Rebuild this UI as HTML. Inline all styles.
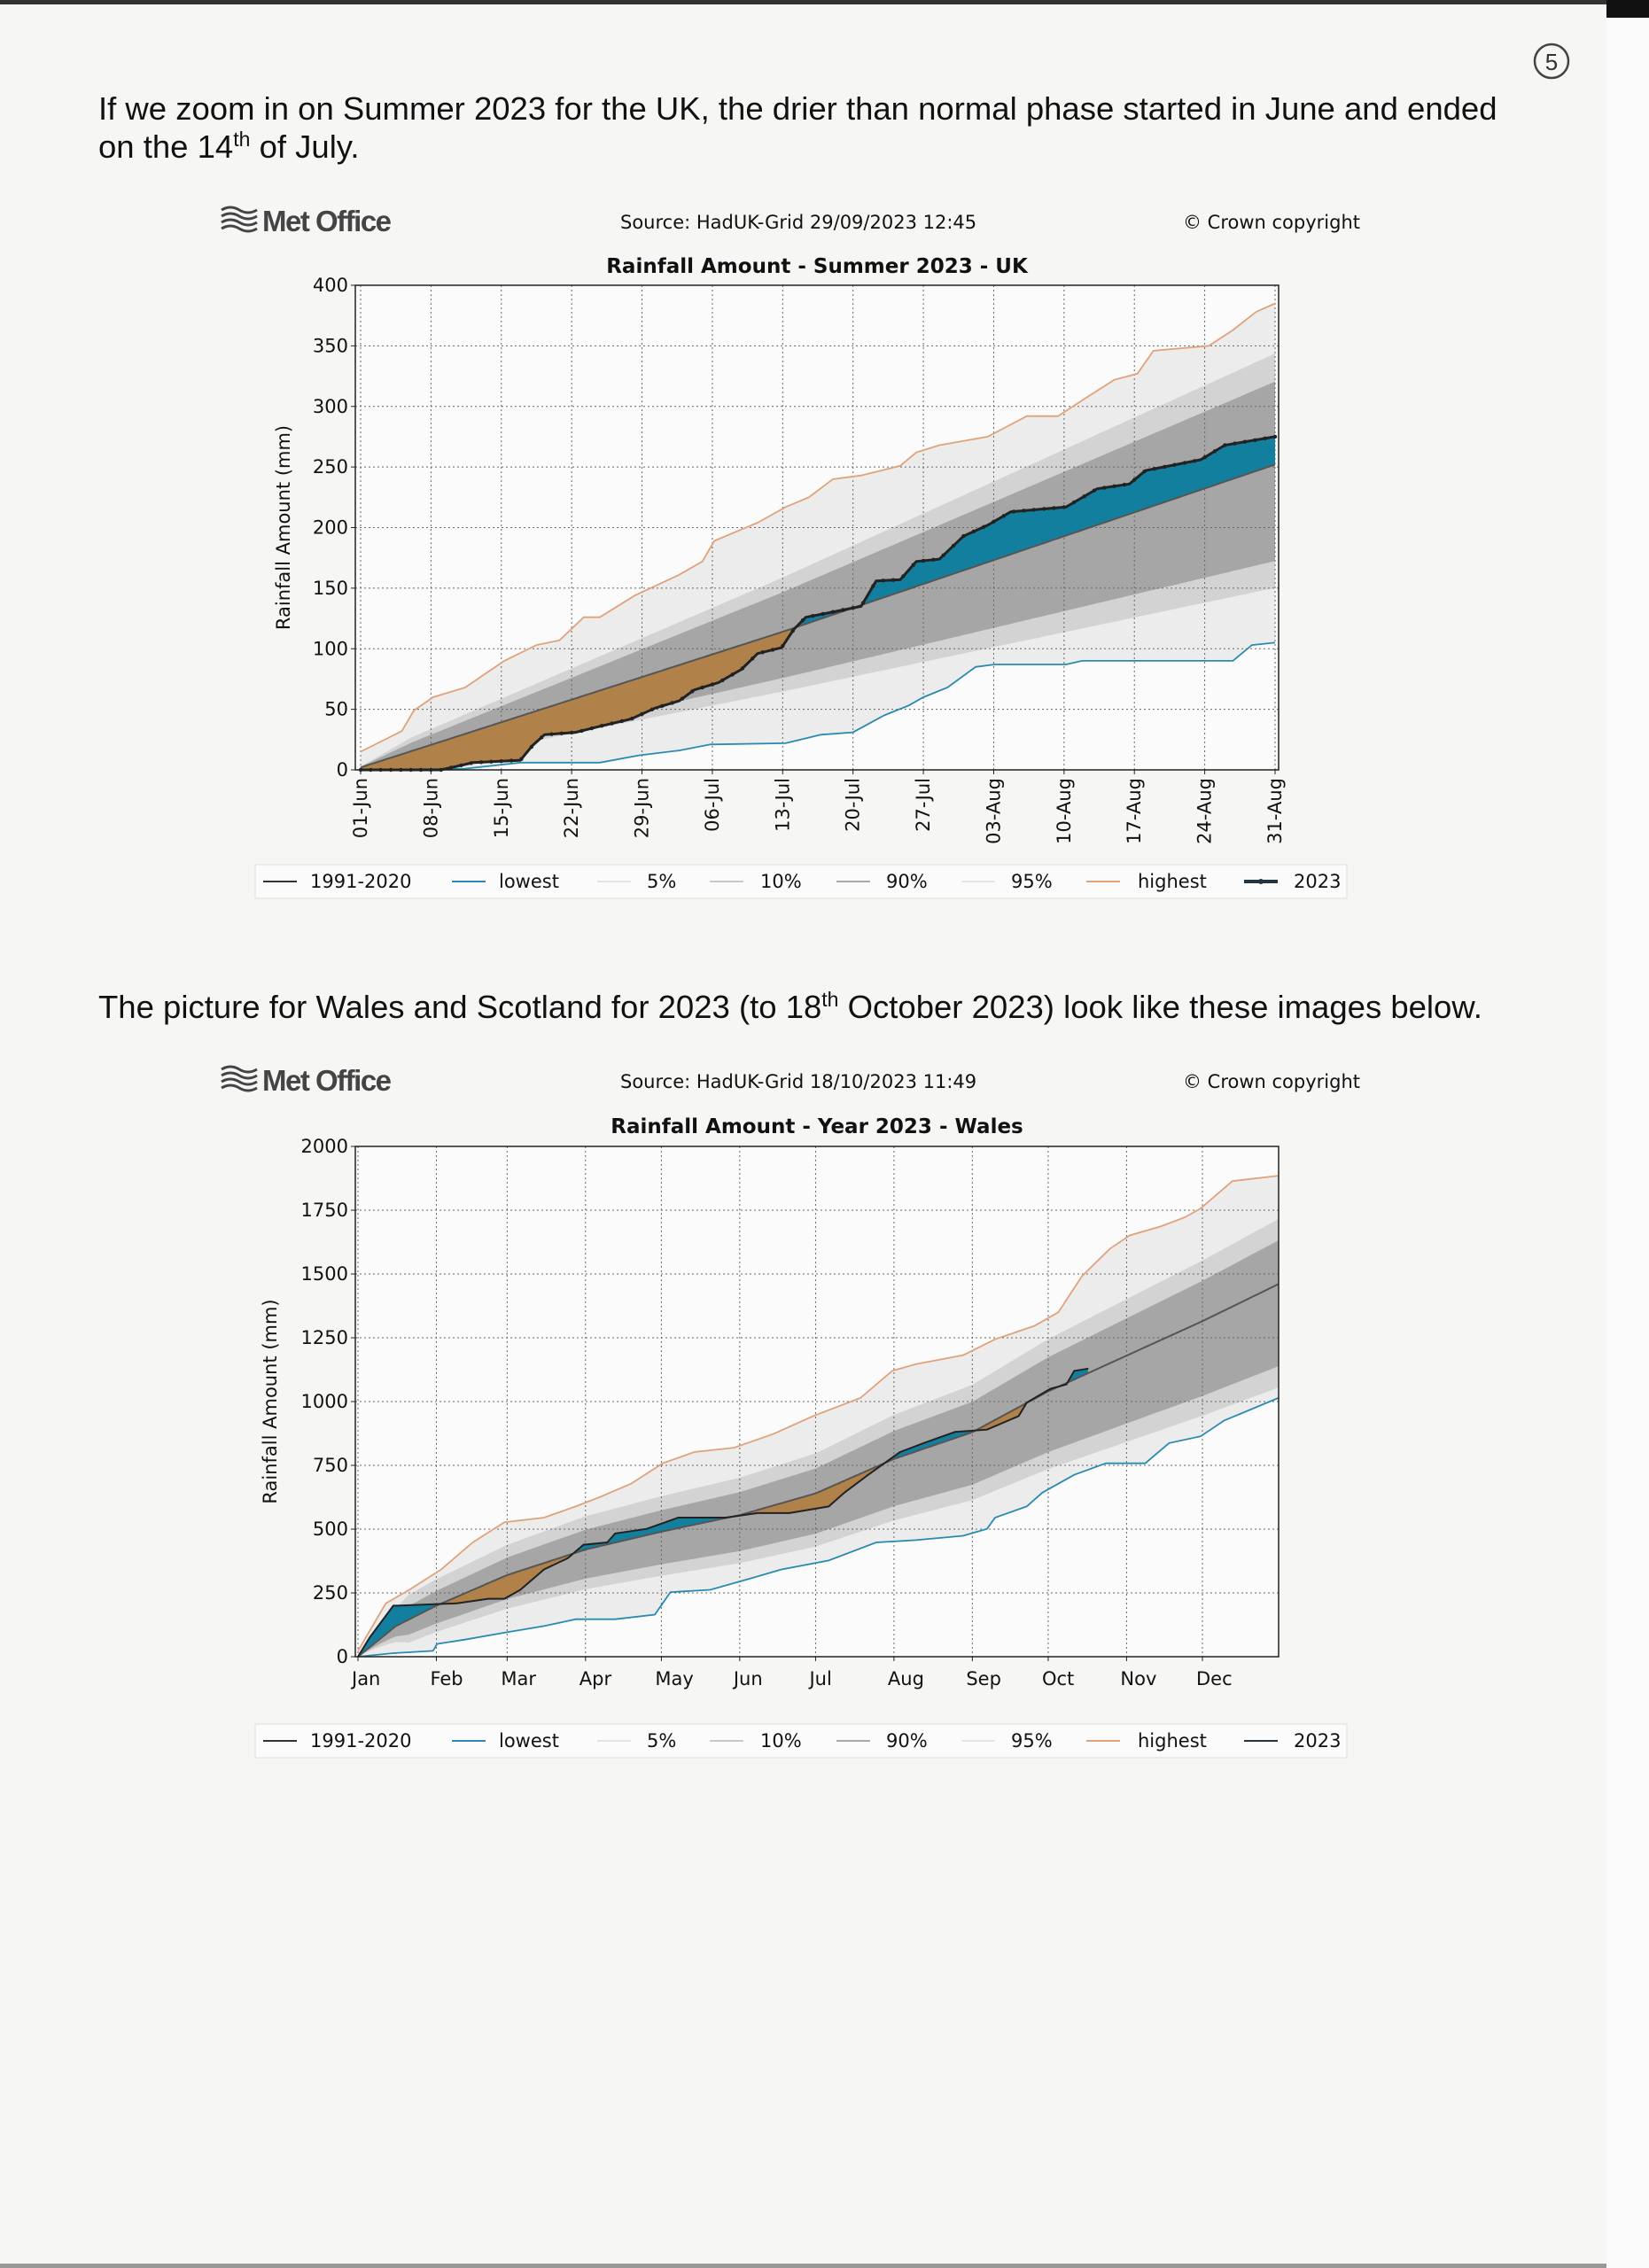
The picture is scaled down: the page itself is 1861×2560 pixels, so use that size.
<!DOCTYPE html>
<html><head><meta charset="utf-8">
<style>
html,body{margin:0;padding:0;background:#f6f6f5;}
body{width:1861px;height:2560px;overflow:hidden;position:relative;}
svg{position:absolute;left:0;top:0;}
</style></head>
<body>
<svg id="s" width="1861" height="2560" xmlns="http://www.w3.org/2000/svg" font-family="'DejaVu Sans', sans-serif">
<rect x="0" y="0" width="1861" height="2560" fill="#f6f6f5"/>
<rect x="1813" y="0" width="48" height="2560" fill="#fbfbfb"/>
<rect x="0" y="0" width="1861" height="5" fill="#333"/>
<rect x="1813" y="0" width="48" height="20" fill="#111"/>
<rect x="0" y="2555" width="1813" height="5" fill="#999"/>
<circle cx="1751" cy="69" r="19" fill="none" stroke="#444" stroke-width="2.5"/>
<text x="1751" y="79" font-size="26" text-anchor="middle" fill="#333" font-family="'Liberation Sans',sans-serif">5</text>
<g font-family="'Liberation Sans',sans-serif" font-size="36.5" fill="#111">
<text x="111" y="135">If we zoom in on Summer 2023 for the UK, the drier than normal phase started in June and ended</text>
<text x="111" y="178">on the 14<tspan font-size="23" dy="-13">th</tspan><tspan dy="13"> of July.</tspan></text>
<text x="111" y="1149">The picture for Wales and Scotland for 2023 (to 18<tspan font-size="23" dy="-13">th</tspan><tspan dy="13"> October 2023) look like these images below.</tspan></text>
</g>
<g id="c1"></g><g id="c2"></g>
</svg>
<script>
var NS="http://www.w3.org/2000/svg";
function el(p,t,a,txt){var e=document.createElementNS(NS,t);for(var k in a)e.setAttribute(k,a[k]);if(txt!==undefined)e.textContent=txt;p.appendChild(e);return e;}
function interp(pts,d){if(d<=pts[0][0])return pts[0][1];for(var i=1;i<pts.length;i++){if(d<=pts[i][0]){var a=pts[i-1],b=pts[i];return a[1]+(b[1]-a[1])*(d-a[0])/(b[0]-a[0]);}}return pts[pts.length-1][1];}
function chart(g,o){
 var X=function(d){return o.x0+(d-o.d0)*o.pxd;}, Y=function(v){return o.yb-(v)*o.pxv;};
 var L=o.left,R=o.right,T=o.top,B=o.yb;
 var hy=o.hy;
 var lg=el(g,"g",{stroke:"#444","stroke-width":"3",fill:"none"});
 for(var i=0;i<4;i++){el(lg,"path",{d:"M250 "+(hy-14+i*7)+" q10 -6 20 0 t20 0"});}
 el(g,"text",{x:296,y:hy+10,"font-size":"33","font-weight":"bold",fill:"#444","font-family":"'Liberation Sans',sans-serif","letter-spacing":"-1.5"},"Met Office");
 el(g,"text",{x:700,y:hy+7,"font-size":"21",fill:"#111"},o.src);
 el(g,"text",{x:1535,y:hy+7,"font-size":"21",fill:"#111","text-anchor":"end"},"© Crown copyright");
 el(g,"text",{x:(L+R)/2,y:o.ty,"font-size":"23","font-weight":"bold",fill:"#111","text-anchor":"middle"},o.title);
 el(g,"rect",{x:L,y:T,width:R-L,height:B-T,fill:"#fbfbfb"});
 var N=o.dmax, days=[];for(var d=0;d<=N;d+=0.5)days.push(d);
 function band(f1,f2,col){var s="";days.forEach(function(d,i){s+=(i?"L":"M")+X(d).toFixed(1)+" "+Y(f1(d)).toFixed(1);});for(var i=days.length-1;i>=0;i--){s+="L"+X(days[i]).toFixed(1)+" "+Y(f2(days[i])).toFixed(1);}el(g,"path",{d:s+"Z",fill:col});}
 var hi=function(d){return interp(o.hi,d);},lo=function(d){return interp(o.lo,d);},mn=function(d){return interp(o.mean,d);};
 band(hi,lo,"#ececec");
 band(o.p95,o.p5,"#d3d3d3");
 band(o.p90,o.p10,"#a6a6a6");
 var gg=el(g,"g",{stroke:"#666","stroke-width":"1","stroke-dasharray":"2,3"});
 o.xt.forEach(function(t){el(gg,"line",{x1:X(t[0]),x2:X(t[0]),y1:T,y2:B});});
 o.yt.forEach(function(v){el(gg,"line",{x1:L,x2:R,y1:Y(v),y2:Y(v)});});
 var s23=o.y23, dEnd=s23[s23.length-1][0];
 var cid=o.id;
 var defs=el(g,"defs",{});
 var c1=el(defs,"clipPath",{id:cid+"a"}),c2=el(defs,"clipPath",{id:cid+"b"});
 var sd=[];for(var d=0;d<=dEnd;d+=0.25)sd.push(d);
 var mp="",sp="";sd.forEach(function(d,i){mp+=(i?"L":"M")+X(d).toFixed(1)+" "+Y(mn(d)).toFixed(1);});
 s23.forEach(function(p,i){sp+=(i?"L":"M")+X(p[0]).toFixed(1)+" "+Y(p[1]).toFixed(1);});
 el(c1,"path",{d:mp+"L"+X(dEnd)+" "+(T-50)+"L"+X(0)+" "+(T-50)+"Z"});
 el(c2,"path",{d:sp+"L"+X(dEnd)+" "+(T-50)+"L"+X(0)+" "+(T-50)+"Z"});
 el(g,"path",{d:sp+"L"+X(dEnd)+" "+B+"L"+X(0)+" "+B+"Z",fill:"#137f9f","clip-path":"url(#"+cid+"a)"});
 el(g,"path",{d:mp+"L"+X(dEnd)+" "+B+"L"+X(0)+" "+B+"Z",fill:"#b0824a","clip-path":"url(#"+cid+"b)"});
 function line(fn,col,w){var s="";days.forEach(function(d,i){s+=(i?"L":"M")+X(d).toFixed(1)+" "+Y(fn(d)).toFixed(1);});el(g,"path",{d:s,fill:"none",stroke:col,"stroke-width":w});}
 function pl(pts,col,w){var s="";pts.forEach(function(p,i){s+=(i?"L":"M")+X(p[0]).toFixed(1)+" "+Y(p[1]).toFixed(1);});el(g,"path",{d:s,fill:"none",stroke:col,"stroke-width":w});}
 line(mn,"#555",2);
 pl(o.hi,"#e0a27a",1.8);
 pl(o.lo,"#2a8ab0",1.8);
 pl(s23,"#222",o.markers?3:2);
 if(o.markers){for(var d=0;d<=dEnd;d+=1){el(g,"circle",{cx:X(d),cy:Y(interp(s23,d)),r:2.2,fill:"#222"});}}
 el(g,"rect",{x:L,y:T,width:R-L,height:B-T,fill:"none",stroke:"#222","stroke-width":"1.5"});
 o.yt.forEach(function(v){el(g,"line",{x1:L-5,x2:L,y1:Y(v),y2:Y(v),stroke:"#222"});el(g,"text",{x:L-8,y:Y(v)+7,"font-size":"21","text-anchor":"end",fill:"#111"},v);});
 o.xt.forEach(function(t){el(g,"line",{x1:X(t[0]),x2:X(t[0]),y1:B,y2:B+5,stroke:"#222"});
  if(o.rot){el(g,"text",{x:0,y:0,"font-size":"21","text-anchor":"end",fill:"#111",transform:"translate("+(X(t[0])+7)+","+(B+9)+") rotate(-90)"},t[1]);}
  else{el(g,"text",{x:X(t[0])-7,y:B+32,"font-size":"21",fill:"#111"},t[1]);}});
 el(g,"text",{x:0,y:0,"font-size":"21","text-anchor":"middle",fill:"#111",transform:"translate("+o.ylx+","+((T+B)/2)+") rotate(-90)"},"Rainfall Amount (mm)");
 var ly=o.ly;
 el(g,"rect",{x:288,y:ly-19,width:1232,height:38,fill:"#fbfbfb",stroke:"#ddd"});
 var items=[[297,350,"1991-2020","#333"],[510,563,"lowest","#2a8ab0"],[674,730,"5%","#e4e4e4"],[801,858,"10%","#c8c8c8"],[944,1000,"90%","#aaa"],[1085,1141,"95%","#e4e4e4"],[1226,1284,"highest","#e0a27a"],[1404,1460,"2023","#234"]];
 items.forEach(function(it){el(g,"line",{x1:it[0],x2:it[0]+38,y1:ly,y2:ly,stroke:it[3],"stroke-width":it[2]=="2023"&&o.markers?4:2});el(g,"text",{x:it[1],y:ly+7,"font-size":"21",fill:"#111"},it[2]);});
 if(o.markers)el(g,"circle",{cx:1423,cy:ly,r:3,fill:"#234"});
}
var m1=[[0,2],[42,114],[91,252]];
chart(document.getElementById("c1"),{id:"k1",x0:407,d0:0,pxd:(1439-407)/91,yb:869,pxv:(869-322)/400,left:401,right:1443,top:322,dmax:91,
 hy:251,ty:308,src:"Source: HadUK-Grid 29/09/2023 12:45",title:"Rainfall Amount - Summer 2023 - UK",ylx:327,ly:995,rot:true,markers:true,
 mean:m1,
 p95:function(d){return interp(m1,d)*1.34+Math.min(d,5)*1.2;},p90:function(d){return interp(m1,d)*1.26+Math.min(d,5)*0.6;},
 p10:function(d){return Math.max(0,interp(m1,d)*0.7-4);},p5:function(d){return Math.max(0,interp(m1,d)*0.62-6);},
 hi:[[0,15],[4.1,32],[5.3,49],[7.2,60],[10.4,68],[14.3,90],[17.5,103],[19.8,107],[22.2,126],[23.8,126],[27.3,144],[31.7,161],[34,172],[35.2,189],[39.5,204],[42.3,217],[44.6,225],[47,240],[49.8,243],[53.7,251],[55.3,262],[57.6,268],[62.4,275],[66.3,292],[69.4,292],[71.8,305],[75,322],[77.3,327],[78.9,346],[84.4,350],[86.8,363],[89.1,378],[91,385]],
 lo:[[0,0],[10.4,1],[15.9,6],[23.8,6],[27.7,12],[31.7,16],[34.8,21],[42.3,22],[45.8,29],[49,31],[52.1,45],[54.5,53],[56,60],[58.4,68],[61.2,85],[63.1,87],[70.2,87],[71.8,90],[86.8,90],[88.7,103],[91,105]],
 y23:[[0,0],[8,0],[11.2,6],[15.9,8],[17.1,20],[18.3,29],[21.4,31],[23.8,36],[26.9,42],[29.3,51],[31.7,57],[33.2,66],[35.6,72],[37.9,83],[39.5,96],[41.9,101],[43.1,116],[44.3,126],[47.4,131],[49.8,135],[51.3,156],[53.7,157],[55.3,172],[57.6,174],[60,193],[62.4,202],[64.7,213],[70.2,217],[73.3,232],[76.5,236],[78.1,247],[83.6,256],[86,268],[91,275]],
 xt:[[0,"01-Jun"],[7,"08-Jun"],[14,"15-Jun"],[21,"22-Jun"],[28,"29-Jun"],[35,"06-Jul"],[42,"13-Jul"],[49,"20-Jul"],[56,"27-Jul"],[63,"03-Aug"],[70,"10-Aug"],[77,"17-Aug"],[84,"24-Aug"],[91,"31-Aug"]],
 yt:[0,50,100,150,200,250,300,350,400]});
var m2=[[0,0],[15,120],[31,200],[59,320],[90,420],[120,490],[151,555],[181,640],[212,775],[243,880],[273,1040],[304,1180],[334,1315],[364,1460]];
function ramp(d){return Math.min(1,d/20);}
chart(document.getElementById("c2"),{id:"k2",x0:404,d0:0,pxd:(1357-404)/334,yb:1870,pxv:(1870-1294)/2000,left:401,right:1443,top:1294,dmax:364,
 hy:1221,ty:1279,src:"Source: HadUK-Grid 18/10/2023 11:49",title:"Rainfall Amount - Year 2023 - Wales",ylx:312,ly:1965,rot:false,markers:false,
 mean:m2,
 p95:function(d){var m=interp(m2,d);return m+(80+0.12*m)*ramp(d);},p90:function(d){var m=interp(m2,d);return m+(40+0.09*m)*ramp(d);},
 p10:function(d){var m=interp(m2,d);return Math.max(0,m-(30+0.2*m)*ramp(d));},p5:function(d){var m=interp(m2,d);return Math.max(0,m-(55+0.24*m)*ramp(d));},
 hi:[[0,23],[11,209],[20.3,262],[32.9,342],[45.4,448],[57.9,527],[73.6,545],[86.1,589],[95.5,625],[108,678],[120.5,758],[133,802],[148.7,819],[164.3,873],[180,943],[198.7,1014],[211.3,1120],[220.7,1147],[239.4,1182],[252,1244],[267.6,1297],[277,1350],[286.4,1492],[297.3,1598],[305.2,1651],[317.7,1687],[327,1722],[333.3,1757],[345.8,1864],[364,1885]],
 lo:[[0,0],[14,14],[29.7,23],[31.3,50],[42.3,67],[57.9,94],[73.6,120],[86.1,147],[101.7,147],[117.4,165],[123.6,253],[139.3,262],[155,306],[167.5,342],[186.2,377],[205,448],[220.7,457],[239.4,474],[248.8,501],[252,545],[264.5,589],[270.7,643],[283.3,713],[295.8,758],[311.4,758],[320.8,837],[333.3,864],[342.7,926],[364,1014]],
 y23:[[0,0],[4.7,76],[14,200],[15.6,200],[39.1,209],[51.6,227],[57.9,227],[64.2,262],[73.6,342],[83,386],[89.2,439],[98.6,448],[101.7,483],[114.2,501],[126.7,545],[145.5,545],[158,563],[170.6,563],[186.2,589],[192.4,643],[201.8,713],[214.4,802],[223.7,837],[236.2,881],[248.8,890],[261.3,943],[264.5,996],[273.9,1050],[280.2,1067],[283.3,1120],[288.9,1129]],
 xt:[[0,"Jan"],[31,"Feb"],[59,"Mar"],[90,"Apr"],[120,"May"],[151,"Jun"],[181,"Jul"],[212,"Aug"],[243,"Sep"],[273,"Oct"],[304,"Nov"],[334,"Dec"]],
 yt:[0,250,500,750,1000,1250,1500,1750,2000]});
</script>
</body></html>
